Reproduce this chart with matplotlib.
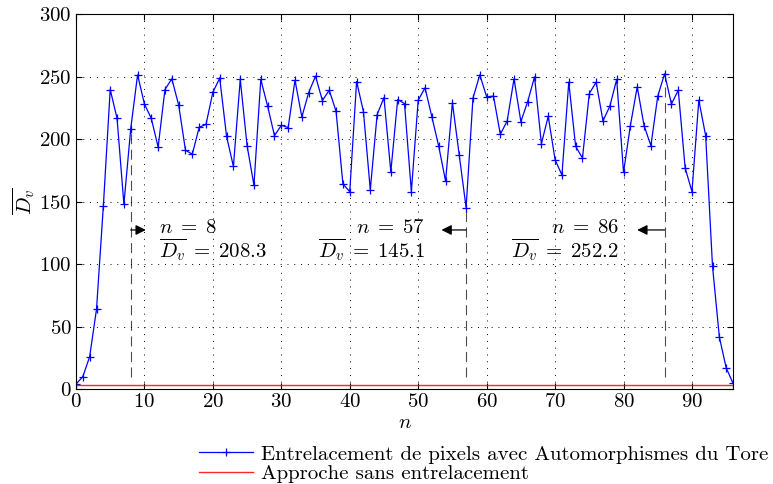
import matplotlib
matplotlib.use("Agg")
import matplotlib.pyplot as plt
import numpy as np

plt.rcParams['font.family'] = 'serif'
plt.rcParams['font.serif'] = ['cmr10']
plt.rcParams['mathtext.fontset'] = 'cm'
plt.rcParams['axes.formatter.use_mathtext'] = True
plt.rcParams['font.size'] = 15

# D_v values for n = 0..96
n = np.arange(97)
dv = [4, 10, 26, 64, 146.5, 239.6, 216.6, 147.9, 208.3, 251.4,
      228, 216.6, 193.6, 239.6, 248.2, 227.3, 191, 188, 209.4, 211.8,
      237.5, 248.7, 202.2, 178.1, 247.7, 194.7, 163.1, 247.7, 226.3, 202.7,
      211, 209.2, 247.1, 217.7, 237.2, 250.3, 230.8, 239.1, 222.2, 164,
      158, 246, 222, 159.4, 219.6, 233.2, 173.8, 231.6, 228.4, 158,
      231.1, 241, 217.7, 194.2, 166.4, 229, 187, 145.1, 232.7, 251.4,
      233.8, 234.3, 203.8, 214.5, 248.2, 214, 230, 249.8, 196.3, 218.2,
      183.5, 171.2, 245.5, 194.2, 184.8, 236.4, 245.5, 214.5, 226.3, 247.7,
      173.3, 210.8, 241.8, 210.8, 194.7, 234.3, 252.2, 228, 239.1, 177,
      158, 231.1, 202.7, 98.4, 41.7, 17, 4.7]
ref_level = 3.7

# annotated points
ann_n = [8, 57, 86]
ann_d = [208.3, 145.1, 252.2]
arrow_dx = [2.2, -3.6, -4.0]
text_x = [12.2, 51.0, 79.3]
text_align = ['left', 'right', 'right']

fig = plt.figure(figsize=(7.73, 4.84), dpi=100)
ax = fig.add_axes([0.0983, 0.196, 0.8500, 0.775])

l1, = ax.plot(n, dv, color='b', lw=0.9, marker='+', ms=6, mew=0.9,
              label='Entrelacement de pixels avec Automorphismes du Tore')
l2, = ax.plot([0, 96], [ref_level, ref_level], color='r', lw=1.0, alpha=0.85,
              label='Approche sans entrelacement')

for k in range(3):
    ax.plot([ann_n[k], ann_n[k]], [10, ann_d[k]], color='k', lw=0.8,
            ls=(0, (9, 5)), alpha=0.7, zorder=1)
    ax.annotate('', xy=(ann_n[k] + arrow_dx[k], 127.3), xytext=(ann_n[k], 127.3),
                arrowprops=dict(arrowstyle='-|>', color='k', lw=0.9,
                                mutation_scale=15, shrinkA=0, shrinkB=0))
    ax.text(text_x[k], 125.0, r'$n\;=\;%d$' % ann_n[k], ha=text_align[k],
            va='baseline', fontsize=15)
    ax.text(text_x[k], 105.4, r'$\overline{D_v}\;=\;%.1f$' % ann_d[k],
            ha=text_align[k], va='baseline', fontsize=15)

ax.set_xlim(0, 96)
ax.set_ylim(0, 300)
ax.set_xticks(np.arange(0, 100, 10))
ax.set_yticks(np.arange(0, 301, 50))
ax.grid(True, color='k', ls=(0, (1, 6)), lw=0.7)
ax.tick_params(direction='in', top=True, right=True, length=4, pad=3,
               labelsize=15)
ax.set_xlabel('$n$', fontsize=15, labelpad=2)
ax.set_ylabel(r'$\overline{D_v}$', fontsize=15, labelpad=2)

fig.legend(handles=[l1, l2], loc='lower right', bbox_to_anchor=(1.0, -0.007),
           frameon=False, fontsize=15, handlelength=2.6, handletextpad=0.42,
           labelspacing=0.05, borderpad=0.1, borderaxespad=0.1)

fig.savefig('out.png', dpi=100)
